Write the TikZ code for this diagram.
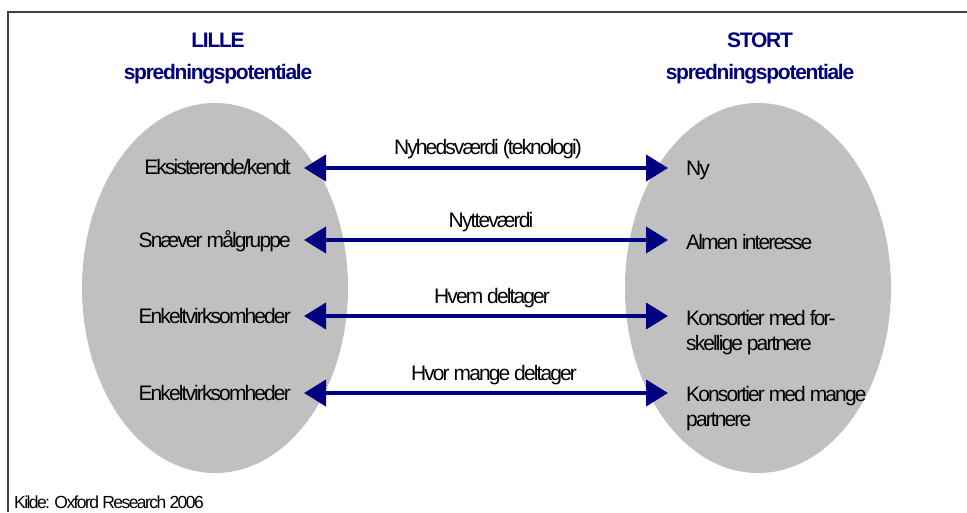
\documentclass[tikz,border=0pt]{standalone}
\usepackage{fontspec}
\setmainfont{Liberation Sans}[LetterSpace=-9]
\newfontfamily\headfont{Liberation Sans}[LetterSpace=-6]
\usetikzlibrary{arrows.meta,shapes.geometric}
\definecolor{arrowblue}{RGB}{0,0,128}
\definecolor{ovalgrey}{RGB}{192,192,192}
\definecolor{framegrey}{RGB}{64,64,64}
\tikzset{
  oval/.style={ellipse, fill=ovalgrey, draw=none, minimum width=266pt, minimum height=370pt, inner sep=0pt},
  heading/.style={font=\headfont\bfseries\fontsize{21}{25}\selectfont, text=arrowblue, anchor=base, inner sep=0pt},
  lefttext/.style={font=\fontsize{21}{25}\selectfont, anchor=base east, inner sep=0pt},
  righttext/.style={font=\fontsize{21}{25}\selectfont, anchor=north west, inner sep=0pt, align=left},
  arrowlabel/.style={font=\fontsize{21}{25}\selectfont, anchor=base, inner sep=0pt},
  biarrow/.style={draw=arrowblue, line width=4pt,
    {Triangle[length=22pt,width=26pt]}-{Triangle[length=22pt,width=26pt]}},
  framestroke/.style={draw=framegrey, line width=2pt},
}
\begin{document}
\begin{tikzpicture}[x=1pt, y=-1pt]
\useasboundingbox[fill=white] (0,0) rectangle (967,512);

% frame
\coordinate (fTR) at (967,12);
\coordinate (fTL) at (8,12);
\coordinate (fBL) at (8,512);
\draw[framestroke] (fTR) -- (fTL) -- (fBL);

% the two ovals
\node[oval] (small) at (215,288) {};
\node[oval] (large) at (758,288) {};

% headings
\node[heading] (h1a) at (218,47) {LILLE};
\node[heading] (h1b) at (218,79) {spredningspotentiale};
\node[heading] (h2a) at (760,47) {STORT};
\node[heading] (h2b) at (760,79) {spredningspotentiale};

% left column
\node[lefttext] (a1) at (291,174) {Eksisterende/kendt};
\node[lefttext] (a2) at (291,247) {Snæver målgruppe};
\node[lefttext] (a3) at (291,323) {Enkeltvirksomheder};
\node[lefttext] (a4) at (291,400) {Enkeltvirksomheder};

% right column
\node[righttext] (b1) at (686,161) {Ny};
\node[righttext] (b2) at (686,234) {Almen interesse};
\node[righttext] (b3) at (686,310) {Konsortier med for-\\skellige partnere};
\node[righttext] (b4) at (686,386) {Konsortier med mange\\partnere};

% arrow end points
\coordinate (p1) at (304,168); \coordinate (q1) at (668,168);
\coordinate (p2) at (304,240); \coordinate (q2) at (668,240);
\coordinate (p3) at (304,316); \coordinate (q3) at (668,316);
\coordinate (p4) at (304,393); \coordinate (q4) at (668,393);

\draw[biarrow] (p1) -- (q1) node[arrowlabel, pos=0.5, yshift=14pt, xshift=2pt] (l1) {Nyhedsværdi (teknologi)};
\draw[biarrow] (p2) -- (q2) node[arrowlabel, pos=0.5, yshift=13pt, xshift=5pt] (l2) {Nytteværdi};
\draw[biarrow] (p3) -- (q3) node[arrowlabel, pos=0.5, yshift=13pt, xshift=6pt] (l3) {Hvem deltager};
\draw[biarrow] (p4) -- (q4) node[arrowlabel, pos=0.5, yshift=13pt, xshift=8pt] (l4) {Hvor mange deltager};

% source line
\node[font=\fontsize{17.5}{21}\selectfont, anchor=base west, inner sep=0pt] (src) at (14,508) {Kilde: Oxford Research 2006};
\end{tikzpicture}
\end{document}
